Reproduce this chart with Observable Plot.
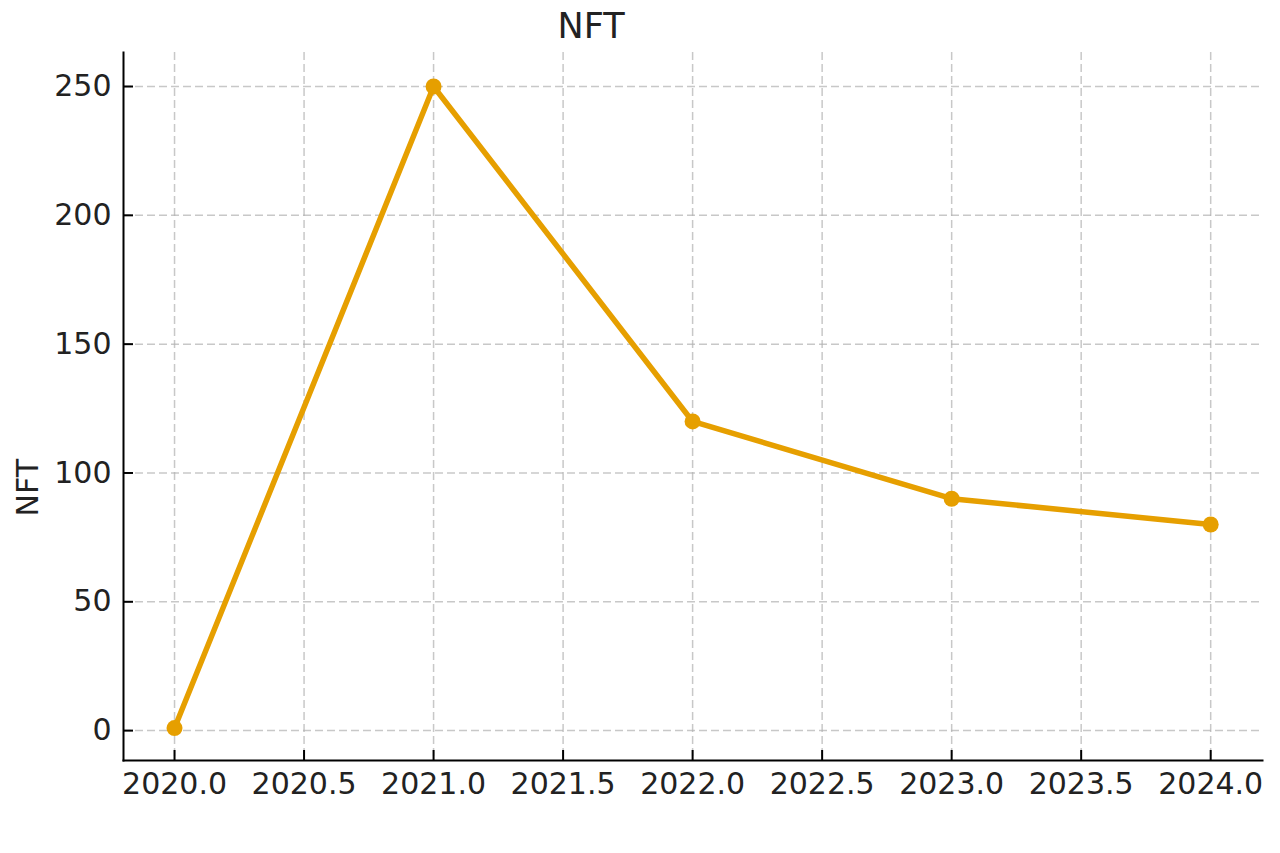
<!DOCTYPE html>
<html>
<head>
<meta charset="utf-8">
<script src="https://cdn.jsdelivr.net/npm/d3@7"></script>
<script src="https://cdn.jsdelivr.net/npm/@observablehq/plot@0.6"></script>
<style>
  html, body { margin: 0; padding: 0; background: #fff; }
  svg { display: block; }
</style>
</head>
<body>
<div id="chart"></div>
<script>
const titleText = "NFT";
const yLabel = "NFT";
const years = [2020, 2021, 2022, 2023, 2024];
const values = [1, 250, 120, 90, 80];
const xTicks = [2020, 2020.5, 2021, 2021.5, 2022, 2022.5, 2023, 2023.5, 2024];
const yTicks = [0, 50, 100, 150, 200, 250];

const data = years.map((y, i) => ({year: y, value: values[i]}));
const color = "#E69F00";
const font = "DejaVu Sans, sans-serif";

const chart = Plot.plot({
  width: 1280,
  height: 853,
  marginLeft: 123,
  marginRight: 18,
  marginTop: 52,
  marginBottom: 93,
  style: {fontFamily: font, fontSize: "30px", color: "#222", background: "#fff"},
  x: {domain: [2019.803, 2024.2], label: null},
  y: {domain: [-11.6, 263.2], label: null},
  marks: [
    Plot.gridX(xTicks, {stroke: "#b0b0b0", strokeOpacity: 0.7, strokeWidth: 1.5, strokeDasharray: "8,4"}),
    Plot.gridY(yTicks, {stroke: "#b0b0b0", strokeOpacity: 0.7, strokeWidth: 1.5, strokeDasharray: "8,4"}),
    Plot.axisX(xTicks, {tickSize: -10, tickFormat: d3.format(".1f"), tickPadding: 22, fontSize: 30, stroke: "#000", strokeWidth: 2, color: "#222"}),
    Plot.axisY(yTicks, {tickSize: -10, tickFormat: d3.format("d"), tickPadding: 22, fontSize: 30, stroke: "#000", strokeWidth: 2, color: "#222"}),
    Plot.frame({anchor: "left", stroke: "#000", strokeWidth: 2}),
    Plot.frame({anchor: "bottom", stroke: "#000", strokeWidth: 2}),
    Plot.line(data, {x: "year", y: "value", stroke: color, strokeWidth: 5.5}),
    Plot.dot(data, {x: "year", y: "value", fill: color, r: 8}),
    Plot.text([titleText], {frameAnchor: "top", dx: -102, dy: -39, fontSize: 35, fill: "#222"}),
    Plot.text([yLabel], {frameAnchor: "left", rotate: -90, dx: -95, dy: 110, fontSize: 30, fill: "#222"})
  ]
});
document.getElementById("chart").appendChild(chart);
</script>
</body>
</html>
